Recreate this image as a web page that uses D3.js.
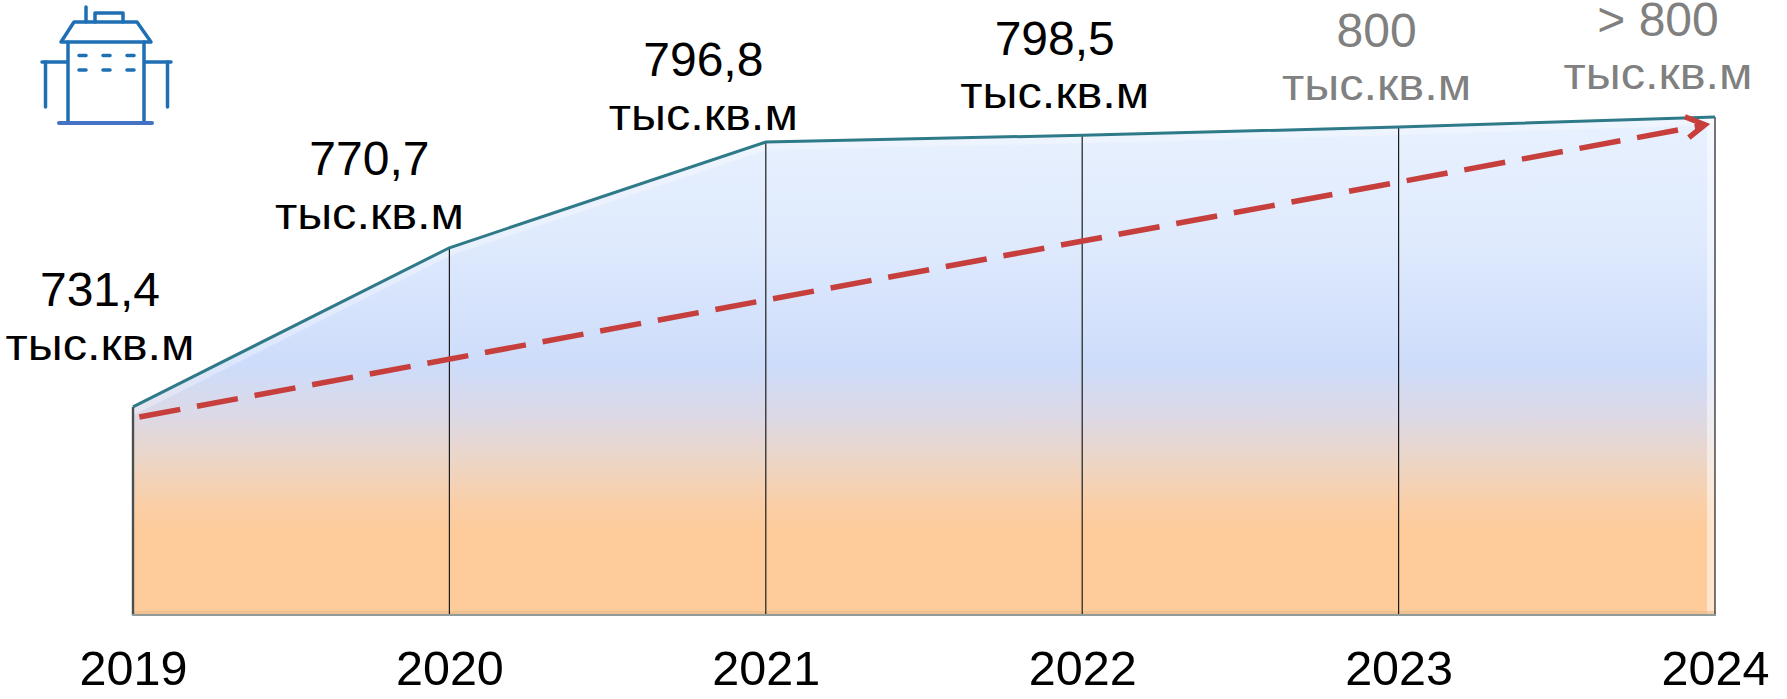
<!DOCTYPE html>
<html>
<head>
<meta charset="utf-8">
<title>chart</title>
<script src="https://d3js.org/d3.v7.min.js"></script>
<style>
  body { margin: 0; background: #fff; }
  text { font-family: "Liberation Sans", Arial, sans-serif; }
</style>
</head>
<body>
<div id="chart"></div>
<script>
var years = [2019, 2020, 2021, 2022, 2023, 2024];

// top edge of the area (the last two are plan figures)
var values = [731.4, 770.7, 796.8, 798.5, 800.5, 803];
var valueLabels = ["731,4", "770,7", "796,8", "798,5", "800", "> 800"];
var unitLabel = "тыс.кв.м";

// dashed trend arrow
var trendYears = [2019.02, 2023.968];
var trendValues = [728.9, 801.1];

// where the labels sit: shift from the year's x, baseline of the number
var labelShift = [-33, -80, -62.5, -27.5, -22, -57];
var labelBase = [306, 175, 76, 55, 47, 36];
var unitBase = [360, 229, 130, 108, 100, 89];

var width = 1787;
var height = 699;
var fact = 3; // years with index > fact are drawn grey
var bottom = 615;

var x = d3.scaleLinear().domain([2019, 2024]).range([133, 1715]);
var y = d3.scaleLinear().domain([680, 803]).range([bottom, 117]);

var svg = d3.select("#chart")
    .append("svg")
    .attr("width", width)
    .attr("height", height);

var defs = svg.append("defs");

var grad = defs.append("linearGradient")
    .attr("id", "areaFill")
    .attr("gradientUnits", "userSpaceOnUse")
    .attr("x1", 0).attr("x2", 0)
    .attr("y1", y(803)).attr("y2", bottom);

grad.selectAll("stop")
    .data([
      [0, "#e8f1fe"],
      [0.25, "#dfeafd"],
      [0.5, "#cddcfa"],
      [0.6, "#dcd9e6"],
      [0.7, "#eed5c3"],
      [0.77, "#f9cfa9"],
      [0.83, "#fecb9a"],
      [1, "#fecb9a"]
    ])
  .enter().append("stop")
    .attr("offset", function(d) { return d[0]; })
    .attr("stop-color", function(d) { return d[1]; });

var area = d3.area()
    .x(function(d, i) { return x(years[i]); })
    .y0(bottom)
    .y1(function(d) { return y(d); });

var line = d3.line()
    .x(function(d, i) { return x(years[i]); })
    .y(function(d) { return y(d); });

defs.append("clipPath")
    .attr("id", "areaClip")
  .append("path")
    .attr("d", area(values));

svg.append("path")
    .attr("d", area(values))
    .attr("fill", "url(#areaFill)");

// soft bevel along the edges of the shape
var bevel = svg.append("g").attr("clip-path", "url(#areaClip)");

bevel.append("path")
    .attr("d", line(values))
    .attr("transform", "translate(0,4)")
    .attr("fill", "none")
    .attr("stroke", "#fff")
    .attr("stroke-opacity", 0.3)
    .attr("stroke-width", 8);

bevel.append("rect")
    .attr("x", x(2024) - 8)
    .attr("y", 0)
    .attr("width", 8)
    .attr("height", bottom)
    .attr("fill", "#fff")
    .attr("fill-opacity", 0.5);

bevel.append("rect")
    .attr("x", x(2019))
    .attr("y", bottom - 4)
    .attr("width", x(2024) - x(2019))
    .attr("height", 4)
    .attr("fill", "#e8b98b")
    .attr("fill-opacity", 0.6);

// verticals at each year
svg.selectAll(".year-line")
    .data(values)
  .enter().append("line")
    .attr("class", "year-line")
    .attr("x1", function(d, i) { return x(years[i]); })
    .attr("x2", function(d, i) { return x(years[i]); })
    .attr("y1", bottom)
    .attr("y2", function(d) { return y(d); })
    .attr("stroke", function(d, i) { return i == 0 ? "#4a5050" : "#1c1c1c"; })
    .attr("stroke-width", function(d, i) { return i == 0 ? 2.4 : 1.2; });

svg.append("line")
    .attr("x1", x(2019) - 1)
    .attr("x2", x(2024) + 1)
    .attr("y1", bottom)
    .attr("y2", bottom)
    .attr("stroke", "#8f9a9a")
    .attr("stroke-width", 2);

svg.append("path")
    .attr("d", line(values))
    .attr("fill", "none")
    .attr("stroke", "#2f7a88")
    .attr("stroke-width", 3);

// dashed arrow
var x1 = x(trendYears[0]), y1 = y(trendValues[0]);
var x2 = x(trendYears[1]), y2 = y(trendValues[1]);

svg.append("line")
    .attr("x1", x1).attr("y1", y1)
    .attr("x2", x2 - 4).attr("y2", y2 + 1)
    .attr("stroke", "#c73f3c")
    .attr("stroke-width", 5.5)
    .attr("stroke-dasharray", "41.6 17");

svg.append("path")
    .attr("d", d3.line()([[x2 - 20, y2 - 8], [x2, y2], [x2 - 16, y2 + 13]]))
    .attr("fill", "none")
    .attr("stroke", "#c73f3c")
    .attr("stroke-width", 5.5);

// value labels
var labels = svg.selectAll(".label")
    .data(valueLabels)
  .enter().append("g")
    .attr("class", "label")
    .attr("text-anchor", "middle")
    .attr("fill", function(d, i) { return i > fact ? "#808080" : "#000"; })
    .attr("transform", function(d, i) {
      return "translate(" + (x(years[i]) + labelShift[i]) + ",0)";
    });

labels.append("text")
    .attr("y", function(d, i) { return labelBase[i]; })
    .attr("font-size", 48)
    .text(function(d) { return d; });

labels.append("text")
    .attr("y", function(d, i) { return unitBase[i]; })
    .attr("font-size", 45)
    .attr("textLength", 189)
    .attr("lengthAdjust", "spacingAndGlyphs")
    .text(unitLabel);

// years along the bottom
var axis = d3.axisBottom(x)
    .tickValues(years)
    .tickFormat(d3.format("d"))
    .tickSize(0)
    .tickPadding(36);

var axisG = svg.append("g")
    .attr("transform", "translate(0," + bottom + ")")
    .call(axis);

axisG.select(".domain").remove();
axisG.selectAll("text")
    .attr("font-size", 48.5)
    .style("font-family", '"Liberation Sans", Arial, sans-serif')
    .attr("fill", "#000");

// building icon
var icon = svg.append("g")
    .attr("fill", "none")
    .attr("stroke", "#1f6fb5")
    .attr("stroke-width", 3.5)
    .attr("stroke-linecap", "round")
    .attr("stroke-linejoin", "round");

var iconPaths = [
  "M86 7V22",
  "M95 22V13H123V22",
  "M61 42L74 22H137L151 42Z",
  "M68 42V122",
  "M144 42V122",
  "M42 62H67",
  "M145 62H171",
  "M45.5 62V107",
  "M167.5 62V107",
  "M79 55.5H86M103 55.5H110M127 55.5H134",
  "M79 70H86M103 70H110M127 70H134"
];

icon.selectAll("path")
    .data(iconPaths)
  .enter().append("path")
    .attr("d", function(d) { return d; });

icon.append("path")
    .attr("d", "M59 123H152")
    .attr("stroke", "#4472c4")
    .attr("stroke-width", 4);
</script>
</body>
</html>
